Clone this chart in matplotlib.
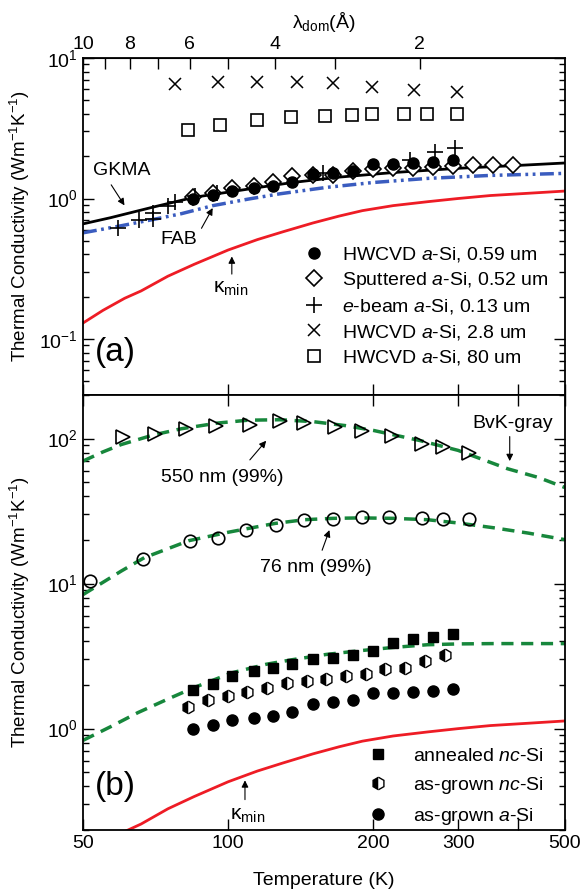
import numpy as np
import matplotlib.pyplot as plt
from matplotlib.lines import Line2D
from matplotlib.ticker import FixedLocator, NullFormatter, NullLocator

plt.rcParams['font.family'] = ['Liberation Sans', 'DejaVu Sans']
plt.rcParams['mathtext.fontset'] = 'custom'
plt.rcParams['mathtext.rm'] = 'Liberation Sans'
plt.rcParams['mathtext.it'] = 'Liberation Sans:italic'
plt.rcParams['mathtext.bf'] = 'Liberation Sans:bold'

# ---- panel (a) data ----
T_hw059 = [84.5, 93, 102, 113, 124, 136, 150, 165, 182, 200, 220, 242, 266, 293]
k_hw059 = [1.0, 1.06, 1.14, 1.19, 1.22, 1.31, 1.49, 1.53, 1.57, 1.76, 1.76, 1.78, 1.83, 1.89]

T_sput = [84.5, 93, 102, 113, 124, 136, 150, 165, 182, 200, 220, 242, 266, 293, 322, 354, 390]
k_sput = [1.02, 1.10, 1.18, 1.22, 1.32, 1.44, 1.46, 1.48, 1.58, 1.62, 1.64, 1.66, 1.68, 1.70, 1.73, 1.74, 1.72]

T_ebeam = [59, 65.4, 70, 70, 75, 77.6, 85.4, 94.8, 157, 238, 269, 296]
k_ebeam = [0.62, 0.70, 0.72, 0.79, 0.88, 0.94, 1.05, 1.09, 1.53, 1.87, 2.13, 2.27]

T_hw28 = [77.6, 95.3, 115, 139, 165, 199, 243, 298]
k_hw28 = [6.5, 6.8, 6.7, 6.7, 6.6, 6.2, 5.9, 5.7]

T_hw80 = [82.6, 96.2, 115, 135, 159, 181, 199, 232, 259, 298]
k_hw80 = [3.09, 3.34, 3.62, 3.79, 3.86, 3.92, 3.98, 3.98, 3.98, 3.98]

T_gkma = [50, 57, 70, 85, 100, 118, 136, 170, 220, 300, 400, 500]
k_gkma = [0.66, 0.73, 0.87, 1.02, 1.11, 1.21, 1.30, 1.42, 1.53, 1.64, 1.72, 1.79]

T_fab = [50, 60, 70, 80, 93, 110, 128, 160, 200, 259, 350, 500]
k_fab = [0.57, 0.64, 0.71, 0.78, 0.89, 0.99, 1.08, 1.20, 1.30, 1.39, 1.46, 1.51]

T_kmin = [50, 55, 61, 66, 75, 85, 100, 115, 130, 150, 170, 190, 220, 260, 300, 350, 420, 500]
k_kmin = [0.13, 0.16, 0.195, 0.22, 0.28, 0.34, 0.43, 0.51, 0.58, 0.67, 0.75, 0.82, 0.89,
          0.95, 1.0, 1.05, 1.09, 1.13]

# ---- panel (b) data ----
T_550 = [60.5, 70.5, 81.8, 94.4, 111, 128, 144, 167, 190, 219, 253, 279, 316]
k_550 = [102, 108, 117, 123, 125, 133, 129, 121, 112, 105, 92, 88, 79]

T_76 = [51.7, 66.6, 83.4, 95.3, 109, 126, 144, 165, 190, 216, 252, 279, 316]
k_76 = [10.5, 14.9, 19.8, 20.7, 23.5, 25.5, 27.6, 28, 29, 29, 28.5, 28, 28]

T_ann = [84.5, 93, 102, 113, 124, 136, 150, 165, 182, 200, 220, 242, 266, 293]
k_ann = [1.86, 2.04, 2.32, 2.51, 2.63, 2.81, 3.04, 3.09, 3.24, 3.45, 3.91, 4.17, 4.31, 4.52]

T_ncg = [82.6, 90.8, 99.8, 109.6, 120.5, 132.4, 145.5, 160, 175.8, 193, 212, 233, 256, 282]
k_ncg = [1.40, 1.58, 1.69, 1.80, 1.92, 2.07, 2.14, 2.21, 2.32, 2.39, 2.59, 2.63, 2.94, 3.24]

T_bvk550 = [50, 55, 60, 70, 80, 95, 110, 128, 150, 175, 200, 250, 300, 380, 440, 500]
k_bvk550 = [70, 81, 91, 106, 117, 128, 134, 135, 131, 123, 114, 97, 83, 62, 54, 46]

T_bvk76 = [50, 60, 67, 83, 100, 110, 125, 144, 165, 188, 220, 259, 300, 355, 420, 500]
k_bvk76 = [8.4, 12.2, 15.1, 19.8, 22.6, 24, 26, 27.6, 28.2, 28.4, 28.2, 27.6, 26.2, 24.3, 22.3, 20.1]

T_bvknc = [50, 57, 65, 75, 85, 102, 120, 136, 160, 188, 220, 259, 300, 355, 500]
k_bvknc = [0.83, 1.03, 1.29, 1.6, 1.92, 2.43, 2.78, 2.99, 3.25, 3.45, 3.63, 3.79, 3.84, 3.86, 3.86]

lam_ticks = [10, 8, 6, 4, 2]
lam_minor = [9, 7, 5, 3]
T_ticks = [50, 100, 200, 300, 400, 500]
T_labels = ['50', '100', '200', '300', '', '500']

red = '#ee1c25'
blue = '#3a5cbf'
green = '#17873c'

fig = plt.figure(figsize=(5.8, 8.92), dpi=100)
ax1 = fig.add_axes([0.1431, 0.5572, 0.831, 0.3778])
ax2 = fig.add_axes([0.1431, 0.0695, 0.831, 0.4877])

for ax in (ax1, ax2):
    ax.set_xscale('log')
    ax.set_yscale('log')
    ax.set_xlim(50, 500)
    ax.xaxis.set_major_locator(FixedLocator(T_ticks))
    ax.xaxis.set_minor_locator(NullLocator())
    ax.set_xticklabels(T_labels)
    ax.tick_params(which='both', direction='in', right=True, top=True, labelsize=14, width=1)
    ax.tick_params(which='major', length=8)
    ax.tick_params(which='minor', length=4)
    for s in ax.spines.values():
        s.set_linewidth(1.3)
    ax.set_ylabel('Thermal Conductivity (Wm$^{-1}$K$^{-1}$)', fontsize=13.5)
    ax.yaxis.set_label_coords(-0.105, 0.5)

# ---- (a) ----
ax1.set_ylim(0.04, 10)
ax1.tick_params(axis='x', labelbottom=False, top=False)
ax1.plot(T_kmin, k_kmin, color=red, lw=2)
ax1.plot(T_fab, k_fab, color=blue, lw=2.5, dashes=(4, 1.3, 0.8, 1.3, 0.8, 1.3))
ax1.plot(T_gkma, k_gkma, color='black', lw=2)
ax1.plot(T_hw28, k_hw28, 'x', color='black', ms=9, mew=1.1)
ax1.plot(T_hw80, k_hw80, 's', color='black', mfc='none', ms=9, mew=1.2)
ax1.plot(T_sput, k_sput, 'D', color='black', mfc='white', ms=8, mew=1.2)
ax1.plot(T_ebeam, k_ebeam, '+', color='black', ms=11, mew=1.2)
ax1.plot(T_hw059, k_hw059, 'o', color='black', ms=8)

h1 = [Line2D([], [], ls='none', marker='o', color='black', ms=8),
      Line2D([], [], ls='none', marker='D', color='black', mfc='white', ms=8, mew=1.2),
      Line2D([], [], ls='none', marker='+', color='black', ms=11, mew=1.2),
      Line2D([], [], ls='none', marker='x', color='black', ms=9, mew=1.1),
      Line2D([], [], ls='none', marker='s', color='black', mfc='none', ms=9, mew=1.2)]
l1 = ['HWCVD $\\mathit{a}$-Si, 0.59 um', 'Sputtered $\\mathit{a}$-Si, 0.52 um',
      '$\\mathit{e}$-beam $\\mathit{a}$-Si, 0.13 um', 'HWCVD $\\mathit{a}$-Si, 2.8 um',
      'HWCVD $\\mathit{a}$-Si, 80 um']
ax1.legend(h1, l1, loc='upper left', bbox_to_anchor=(0.4585, 0.445), frameon=False,
           fontsize=14, handlelength=1.0, handletextpad=0.95, labelspacing=0.32,
           borderpad=0, borderaxespad=0)

ax1.text(60.3, 1.58, 'GKMA', fontsize=14, ha='center', va='center')
ax1.annotate('', xy=(61.4, 0.86), xytext=(56.8, 1.30),
             arrowprops=dict(arrowstyle='-|>', color='black', lw=0.8, mutation_scale=10))
ax1.text(79, 0.51, 'FAB', fontsize=14, ha='center', va='center')
ax1.annotate('', xy=(93.5, 0.89), xytext=(87.5, 0.59),
             arrowprops=dict(arrowstyle='-|>', color='black', lw=0.8, mutation_scale=10))
ax1.text(101, 0.23, 'κ$_{\\rm min}$', fontsize=15, ha='center', va='center')
ax1.annotate('', xy=(101.8, 0.405), xytext=(101.8, 0.277),
             arrowprops=dict(arrowstyle='-|>', color='black', lw=0.8, mutation_scale=10))
ax1.text(0.025, 0.125, '(a)', transform=ax1.transAxes, fontsize=24, ha='left', va='center')

sec = ax1.secondary_xaxis('top', functions=(lambda t: 500.0 / t, lambda l: 500.0 / l))
sec.set_xticks(lam_ticks)
sec.set_xticklabels([str(v) for v in lam_ticks])
sec.xaxis.set_minor_locator(FixedLocator(lam_minor))
sec.xaxis.set_minor_formatter(NullFormatter())
sec.tick_params(which='both', direction='in', labelsize=14, width=1)
sec.tick_params(which='major', length=8)
sec.tick_params(which='minor', length=8)
sec.set_xlabel('λ$_{\\rm dom}$(Å)', fontsize=14, labelpad=6)

# ---- (b) ----
ax2.set_ylim(0.2, 200)
ax2.plot(T_kmin, k_kmin, color=red, lw=2)
ax2.plot(T_bvk550, k_bvk550, color=green, lw=2.5, dashes=(3.5, 2.2))
ax2.plot(T_bvk76, k_bvk76, color=green, lw=2.5, dashes=(3.5, 2.2))
ax2.plot(T_bvknc, k_bvknc, color=green, lw=2.5, dashes=(3.5, 2.2))
ax2.plot(T_550, k_550, '>', color='black', mfc='none', ms=10, mew=1.2)
ax2.plot(T_76, k_76, 'o', color='black', mfc='none', ms=9, mew=1.2)
ax2.plot(T_ann, k_ann, 's', color='black', ms=7.5)
ax2.plot(T_ncg, k_ncg, 'h', color='black', ms=9, fillstyle='left',
         mfc='black', mfcalt='white', mew=1.0)
ax2.plot(T_hw059, k_hw059, 'o', color='black', ms=8)

h2 = [Line2D([], [], ls='none', marker='s', color='black', ms=7.5),
      Line2D([], [], ls='none', marker='h', color='black', ms=9, fillstyle='left',
             mfc='black', mfcalt='white', mew=1.0),
      Line2D([], [], ls='none', marker='o', color='black', ms=8)]
l2 = ['annealed $\\mathit{nc}$-Si', 'as-grown $\\mathit{nc}$-Si', 'as-grown $\\mathit{a}$-Si']
ax2.legend(h2, l2, loc='upper left', bbox_to_anchor=(0.591, 0.191), frameon=False,
           fontsize=14, handlelength=1.0, handletextpad=1.3, labelspacing=0.52,
           borderpad=0, borderaxespad=0)

ax2.text(97.2, 53.9, '550 nm (99%)', fontsize=14, ha='center', va='center')
ax2.annotate('', xy=(121, 100), xytext=(110, 69),
             arrowprops=dict(arrowstyle='-|>', color='black', lw=0.8, mutation_scale=10))
ax2.text(152, 12.9, '76 nm (99%)', fontsize=14, ha='center', va='center')
ax2.annotate('', xy=(163, 24.4), xytext=(156, 16.3),
             arrowprops=dict(arrowstyle='-|>', color='black', lw=0.8, mutation_scale=10))
ax2.text(390, 127, 'BvK-gray', fontsize=14, ha='center', va='center')
ax2.annotate('', xy=(384, 67), xytext=(384, 108),
             arrowprops=dict(arrowstyle='-|>', color='black', lw=0.8, mutation_scale=10))
ax2.text(110, 0.25, 'κ$_{\\rm min}$', fontsize=15, ha='center', va='center')
ax2.annotate('', xy=(108.4, 0.46), xytext=(108.4, 0.31),
             arrowprops=dict(arrowstyle='-|>', color='black', lw=0.8, mutation_scale=10))
ax2.text(0.025, 0.099, '(b)', transform=ax2.transAxes, fontsize=24, ha='left', va='center')

ax2.set_xlabel('Temperature (K)', fontsize=14)
ax2.xaxis.set_label_coords(0.5, -0.097)

fig.savefig('out.png', dpi=100)
